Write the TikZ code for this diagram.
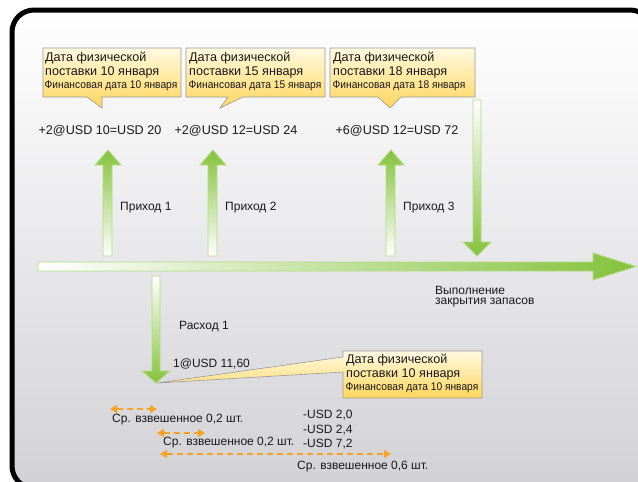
\documentclass[tikz,border=0pt]{standalone}
\usepackage{fontspec}
\setmainfont{Liberation Sans}
\newfontfamily\narrowfont[FakeStretch=0.92]{Liberation Sans}
\usetikzlibrary{arrows.meta}
\definecolor{grn}{HTML}{84C23A}
\definecolor{grnline}{HTML}{B2DB86}
\definecolor{ylwtop}{HTML}{FFFAE2}
\definecolor{ylwbot}{HTML}{FFD65C}
\definecolor{orng}{HTML}{F7A325}
\definecolor{bggrey}{HTML}{D2D2D6}
\tikzset{
  uparrow/.style={top color=grn, bottom color=white, draw=grnline, line width=0.9pt},
  downarrow/.style={top color=white, bottom color=grn, draw=grnline, line width=0.9pt},
  callout/.style={top color=ylwtop, bottom color=ylwbot, draw=black!40, line width=0.6pt},
  txt/.style={font=\fontsize{12}{14}\selectfont, inner sep=0pt, text=black!90},
  big/.style={font=\fontsize{12.6}{15}\selectfont, inner sep=0pt, text=black!90},
  fin/.style={font=\narrowfont\fontsize{11.1}{13}\selectfont, inner sep=0pt, text=black!90},
  avg/.style={orng, line width=2.6pt, dash pattern=on 6pt off 4pt,
    {Triangle[length=7pt,width=8pt]}-{Triangle[length=7pt,width=8pt]}}
}
\begin{document}
\begin{tikzpicture}[x=1pt,y=-1pt]
\useasboundingbox (0,0) rectangle (638,482);
% frame
\shade[top color=white, middle color=white, bottom color=bggrey, rounded corners=22pt]
  (12,10) rectangle (652,488);
\draw[line width=5pt, rounded corners=22pt] (12,10) rectangle (652,488);

% callouts
\shadedraw[callout] (43,48) -- (181,48) -- (181,97) -- (102,97) -- (102,108) -- (87,97) -- (43,97) -- cycle;
\shadedraw[callout] (186,48) -- (325,48) -- (325,97) -- (243,97) -- (220,108) -- (228,97) -- (186,97) -- cycle;
\shadedraw[callout] (330,48) -- (475,48) -- (475,97) -- (401,97) -- (390,108) -- (378,97) -- (330,97) -- cycle;
\shadedraw[callout] (343,351) -- (482,351) -- (482,398) -- (343,398) -- (343,372) -- (157,383) -- (343,357) -- cycle;

\node[big, anchor=west] (c1a) at (45,58) {Дата физической};
\node[big, anchor=west] (c1b) at (45,72) {поставки 10 января};
\node[fin, anchor=west] (c1c) at (44.5,86) {Финансовая дата 10 января};
\node[big, anchor=west] (c2a) at (189,58) {Дата физической};
\node[big, anchor=west] (c2b) at (189,72) {поставки 15 января};
\node[fin, anchor=west] (c2c) at (188.5,86) {Финансовая дата 15 января};
\node[big, anchor=west] (c3a) at (333,58) {Дата физической};
\node[big, anchor=west] (c3b) at (333,72) {поставки 18 января};
\node[fin, anchor=west] (c3c) at (332.5,86) {Финансовая дата 18 января};
\node[big, anchor=west] (c4a) at (346,360) {Дата физической};
\node[big, anchor=west] (c4b) at (346,374) {поставки 10 января};
\node[fin, anchor=west] (c4c) at (345.5,388) {Финансовая дата 10 января};

% value labels
\node[big] (v1) at (100,131) {+2@USD 10=USD 20};
\node[big] (v2) at (236,131) {+2@USD 12=USD 24};
\node[big] (v3) at (397,131) {+6@USD 12=USD 72};

% main horizontal arrow
\shadedraw[left color=white, right color=grn, draw=grnline, line width=0.9pt]
  (38,262) -- (593,262) -- (593,253) -- (636,266.5) -- (593,280) -- (593,271) -- (38,271) -- cycle;

% up arrows (receipts)
\shadedraw[uparrow] (103,256) -- (103,165) -- (95,165) -- (108,150) -- (121,165) -- (112,165) -- (112,256) -- cycle;
\shadedraw[uparrow] (208,256) -- (208,165) -- (200,165) -- (213,150) -- (226,165) -- (217,165) -- (217,256) -- cycle;
\shadedraw[uparrow] (386,256) -- (386,165) -- (378,165) -- (391,150) -- (404,165) -- (395,165) -- (395,256) -- cycle;

% down arrow (closing)
\shadedraw[downarrow] (473,100) -- (481,100) -- (481,242) -- (491,242) -- (477,256) -- (463,242) -- (473,242) -- cycle;

% down arrow (issue)
\shadedraw[downarrow] (152,276) -- (160,276) -- (160,371) -- (170,371) -- (156,383) -- (142,371) -- (152,371) -- cycle;

\node[txt, anchor=west] (p1) at (120,208) {Приход 1};
\node[txt, anchor=west] (p2) at (225,208) {Приход 2};
\node[txt, anchor=west] (p3) at (403,208) {Приход 3};
\node[txt, anchor=west] (cl1) at (435,290) {Выполнение};
\node[txt, anchor=west] (cl2) at (435,303) {закрытия запасов};
\node[txt, anchor=west] (r1) at (179,327) {Расход 1};
\node[txt, anchor=west] (r2) at (173,364) {1@USD 11,60};

% weighted average arrows
\coordinate (a1s) at (110,409); \coordinate (a1e) at (157,409);
\coordinate (a2s) at (157,433); \coordinate (a2e) at (205,433);
\coordinate (a3s) at (160,454); \coordinate (a3e) at (391,454);
\draw[avg] (a1s) -- (a1e);
\draw[avg] (a2s) -- (a2e);
\draw[avg] (a3s) -- (a3e);

\node[txt, anchor=west] (w1) at (112,420) {Ср. взвешенное 0,2 шт.};
\node[txt, anchor=west] (w2) at (163,443) {Ср. взвешенное 0,2 шт.};
\node[txt, anchor=west] (w3) at (297,467) {Ср. взвешенное 0,6 шт.};
\node[txt, anchor=west] (u1) at (303,415) {-USD 2,0};
\node[txt, anchor=west] (u2) at (303,430) {-USD 2,4};
\node[txt, anchor=west] (u3) at (303,444) {-USD 7,2};
\end{tikzpicture}
\end{document}
